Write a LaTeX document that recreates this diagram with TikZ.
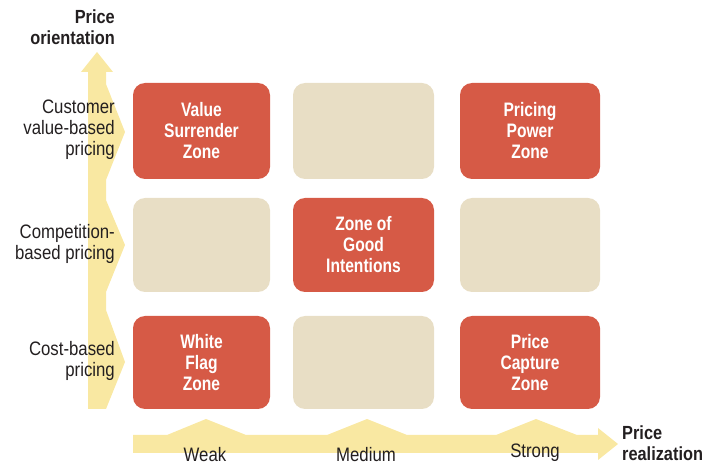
\documentclass[tikz,border=0pt]{standalone}
\usepackage{fontspec}
\setmainfont{Liberation Sans}[FakeStretch=0.86]
\newfontfamily\zonefont{Liberation Sans}[FakeStretch=0.8]
\begin{document}
\begin{tikzpicture}[x=1pt,y=-1pt,
  arrowfill/.style={fill=arrowyellow,draw=none},
  zone/.style={draw=none,rounded corners=12pt,inner sep=0pt,text=white,
    font=\zonefont\bfseries\fontsize{19.5}{21}\selectfont,align=center},
  redzone/.style={zone,fill=zonered},
  plainzone/.style={zone,fill=zonebeige},
  rowlabel/.style={anchor=east,inner sep=0pt,align=right,text=labeltext,
    font=\fontsize{19.5}{21}\selectfont},
  axistitle/.style={inner sep=0pt,text=labeltext,
    font=\bfseries\fontsize{19}{21}\selectfont},
  collabel/.style={anchor=base,inner sep=0pt,text=labeltext,
    font=\fontsize{19.5}{21}\selectfont}]
\definecolor{arrowyellow}{HTML}{F9E8A2}
\definecolor{zonered}{HTML}{D65A46}
\definecolor{zonebeige}{HTML}{E8DEC5}
\definecolor{labeltext}{HTML}{231F20}
\useasboundingbox (0,0) rectangle (716,465);

% vertical axis arrow
\path[arrowfill] (88,409) -- (88,72) -- (81,72) -- (97,52) -- (113,72) -- (106,72)
  -- (106,84) -- (125,132) -- (106,180) -- (106,200) -- (125,245) -- (106,292)
  -- (106,310) -- (125,362) -- (106,409) -- cycle;
% horizontal axis arrow
\path[arrowfill] (133,435) -- (167,435) -- (206,419) -- (246,435) -- (327,435)
  -- (367,419) -- (407,435) -- (496,435) -- (536,419) -- (577,435) -- (598,435)
  -- (598,428) -- (618,444) -- (598,460) -- (598,453) -- (133,453) -- cycle;

% zones
\node[redzone,minimum width=137pt,minimum height=96pt] (vs) at (201.5,131) {Value\\Surrender\\Zone};
\node[plainzone,minimum width=141pt,minimum height=96pt] (tm) at (363.5,131) {};
\node[redzone,minimum width=140pt,minimum height=96pt] (pp) at (530,131) {Pricing\\Power\\Zone};
\node[plainzone,minimum width=137pt,minimum height=94pt] (ml) at (201.5,245) {};
\node[redzone,minimum width=141pt,minimum height=94pt] (gi) at (363.5,245) {Zone of\\Good\\Intentions};
\node[plainzone,minimum width=140pt,minimum height=94pt] (mr) at (530,245) {};
\node[redzone,minimum width=137pt,minimum height=93pt] (wf) at (201.5,362.5) {White\\Flag\\Zone};
\node[plainzone,minimum width=141pt,minimum height=93pt] (bm) at (363.5,362.5) {};
\node[redzone,minimum width=140pt,minimum height=93pt] (pc) at (530,362.5) {Price\\Capture\\Zone};

% row labels
\node[rowlabel] (cv) at (115,130) {Customer\\value-based\\pricing};
\node[rowlabel] (cb) at (115,244) {Competition-\\based pricing};
\node[rowlabel] (co) at (115,361) {Cost-based\\pricing};

% axis titles
\node[axistitle,anchor=east,align=right] (po) at (115,27) {Price\\orientation};
\node[axistitle,anchor=west,align=left] (pr) at (622,443) {Price\\realization};

% column labels
\node[collabel] (wk) at (205,462) {Weak};
\node[collabel] (md) at (366,462) {Medium};
\node[collabel] (st) at (535,457) {Strong};
\end{tikzpicture}
\end{document}
